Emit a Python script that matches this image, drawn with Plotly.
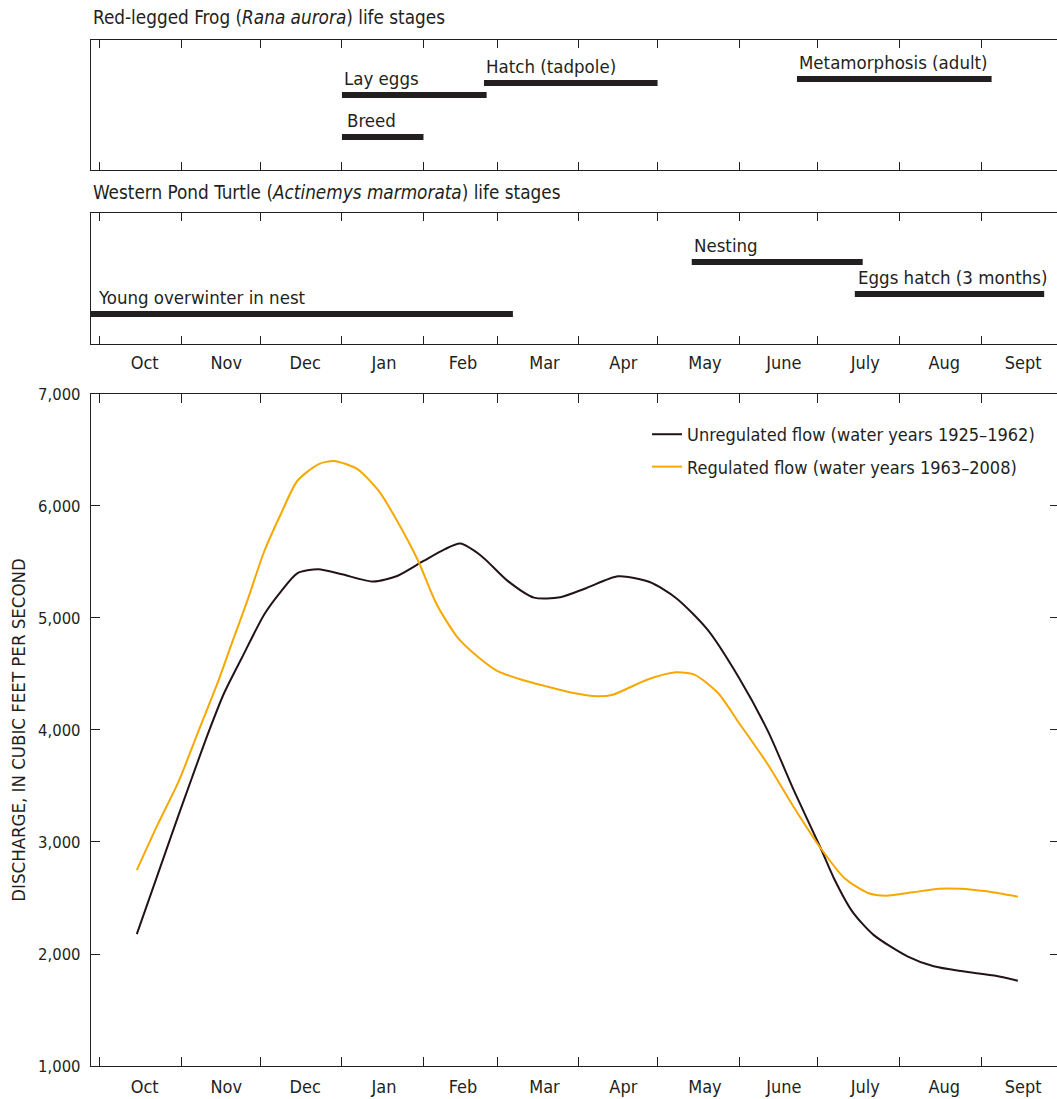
import plotly.graph_objects as go

# ---- axis labelling -------------------------------------------------------
MONTH_LABELS = ["Oct", "Nov", "Dec", "Jan", "Feb", "Mar", "Apr", "May",
                "June", "July", "Aug", "Sept"]
MONTH_STARTS = ["2000-10-01", "2000-11-01", "2000-12-01", "2001-01-01",
                "2001-02-01", "2001-03-01", "2001-04-01", "2001-05-01",
                "2001-06-01", "2001-07-01", "2001-08-01", "2001-09-01"]
MONTH_LABEL_DATES = ["2000-10-18", "2000-11-18", "2000-12-18", "2001-01-17",
                     "2001-02-16", "2001-03-19", "2001-04-18", "2001-05-19",
                     "2001-06-18", "2001-07-19", "2001-08-18", "2001-09-17"]
DISCHARGE_TICKS = [1000, 2000, 3000, 4000, 5000, 6000, 7000]

# ---- mean daily discharge, cubic feet per second -------------------------
unreg_dates = ["2000-10-15", "2000-10-23", "2000-10-31", "2000-11-05", "2000-11-11",
               "2000-11-17", "2000-11-24", "2000-12-02 12:00", "2000-12-09", "2000-12-15",
               "2000-12-23", "2001-01-01", "2001-01-13", "2001-01-22", "2001-02-01",
               "2001-02-09", "2001-02-15", "2001-02-23", "2001-03-05", "2001-03-15",
               "2001-03-25", "2001-04-04", "2001-04-16", "2001-04-28", "2001-05-08",
               "2001-05-20", "2001-06-01", "2001-06-12", "2001-06-22", "2001-07-02",
               "2001-07-07", "2001-07-14", "2001-07-22", "2001-08-04", "2001-08-14",
               "2001-08-25", "2001-09-06", "2001-09-15"]
unreg_flow = [2178, 2713, 3249, 3576, 3963,
              4319, 4647, 5033, 5242, 5399,
              5435, 5390, 5325, 5375, 5509,
              5613, 5664, 5554, 5331, 5182,
              5185, 5268, 5372, 5321, 5179,
              4896, 4464, 3988, 3452, 2946,
              2679, 2381, 2173, 1979, 1890,
              1845, 1807, 1762]

reg_dates = ["2000-10-15", "2000-10-23", "2000-10-31", "2000-11-07", "2000-11-15",
             "2000-11-20", "2000-11-26", "2000-12-02 12:00", "2000-12-09", "2000-12-15",
             "2000-12-23", "2000-12-29", "2001-01-07", "2001-01-15", "2001-01-22",
             "2001-01-30", "2001-02-06", "2001-02-14", "2001-02-22", "2001-03-01",
             "2001-03-11", "2001-03-19", "2001-03-29", "2001-04-08", "2001-04-14",
             "2001-04-27", "2001-05-08", "2001-05-15", "2001-05-24", "2001-06-01",
             "2001-06-12", "2001-06-22", "2001-07-02", "2001-07-11", "2001-07-20",
             "2001-07-27", "2001-08-06", "2001-08-16", "2001-08-24", "2001-09-03",
             "2001-09-15"]
reg_flow = [2749, 3159, 3546, 3963, 4438,
            4766, 5152, 5598, 5940, 6223,
            6372, 6402, 6327, 6134, 5866,
            5509, 5123, 4825, 4647, 4528,
            4444, 4394, 4335, 4301, 4315,
            4449, 4515, 4494, 4330, 4062,
            3690, 3304, 2946, 2679, 2545,
            2521, 2551, 2583, 2583, 2560,
            2512]

# ---- life-stage periods ---------------------------------------------------
frog_stages = ["Lay eggs", "Breed", "Hatch (tadpole)", "Metamorphosis (adult)"]
frog_start = ["2001-01-01", "2001-01-01", "2001-02-24", "2001-06-23"]
frog_end = ["2001-02-25", "2001-02-01", "2001-05-01", "2001-09-05"]

turtle_stages = ["Young overwinter in nest", "Nesting", "Eggs hatch (3 months)"]
turtle_start = ["2000-09-27 14:00", "2001-05-14", "2001-07-15"]
turtle_end = ["2001-03-07", "2001-07-18", "2001-09-25"]

# ---- styling --------------------------------------------------------------
INK = "#231f20"
UNREG_COLOR = "#231316"
REG_COLOR = "#f6a800"
FONT = "DejaVu Sans Condensed, Liberation Sans Narrow, Arial Narrow, sans-serif"
X_RANGE = ["2000-09-27 14:00", "2001-09-29 21:00"]

frog_rows = [0.577, 0.254, 0.669, 0.70]
frog_text_shift = [0, 3, 0, 0]
turtle_rows = [0.229, 0.626, 0.382]
turtle_text_shift = [5, 0, 1]

fig = go.Figure()
annotations = []

for name, s, e, row, dx in zip(frog_stages, frog_start, frog_end, frog_rows, frog_text_shift):
    fig.add_trace(go.Scatter(x=[s, e], y=[row, row], mode="lines", xaxis="x", yaxis="y",
                             line=dict(color=INK, width=6), showlegend=False,
                             hoverinfo="skip"))
    annotations.append(dict(x=s, y=row, xref="x", yref="y", text=name, showarrow=False,
                            xanchor="left", yanchor="bottom", yshift=4, xshift=dx,
                            font=dict(size=18.5, color=INK, family=FONT)))

for name, s, e, row, dx in zip(turtle_stages, turtle_start, turtle_end, turtle_rows, turtle_text_shift):
    fig.add_trace(go.Scatter(x=[s, e], y=[row, row], mode="lines", xaxis="x2", yaxis="y2",
                             line=dict(color=INK, width=6), showlegend=False,
                             hoverinfo="skip"))
    annotations.append(dict(x=s, y=row, xref="x2", yref="y2", text=name, showarrow=False,
                            xanchor="left", yanchor="bottom", yshift=4, xshift=dx,
                            font=dict(size=18.5, color=INK, family=FONT)))

fig.add_trace(go.Scatter(x=unreg_dates, y=unreg_flow, mode="lines", xaxis="x3", yaxis="y3",
                         name="Unregulated flow (water years 1925\u20131962)",
                         legendgroup="unreg",
                         line=dict(color=UNREG_COLOR, width=2, shape="spline", smoothing=0.7)))
fig.add_trace(go.Scatter(x=reg_dates, y=reg_flow, mode="lines", xaxis="x3", yaxis="y3",
                         name="Regulated flow (water years 1963\u20132008)",
                         legendgroup="reg",
                         line=dict(color=REG_COLOR, width=2, shape="spline", smoothing=0.7)))
# carries the right-hand discharge ticks
fig.add_trace(go.Scatter(x=[], y=[], xaxis="x3", yaxis="y4", showlegend=False,
                         hoverinfo="skip"))

annotations.append(dict(x=0, y=1.0224, xref="paper", yref="paper", xanchor="left",
                        yanchor="middle", showarrow=False,
                        text="Red-legged Frog (<i>Rana aurora</i>) life stages",
                        font=dict(size=18.8, color=INK, family=FONT)))
annotations.append(dict(x=0, y=0.8509, xref="paper", yref="paper", xanchor="left",
                        yanchor="middle", showarrow=False,
                        text="Western Pond Turtle (<i>Actinemys marmorata</i>) life stages",
                        font=dict(size=18.8, color=INK, family=FONT)))

frame = dict(showline=True, linecolor=INK, linewidth=1.3, showgrid=False, zeroline=False)
month_minor = dict(tickvals=MONTH_STARTS, ticks="inside", ticklen=8, tickwidth=1.3,
                   tickcolor=INK, showgrid=False)

fig.update_layout(
    width=1057, height=1099,
    margin=dict(l=91, r=0, t=40, b=33),
    paper_bgcolor="white", plot_bgcolor="white",
    font=dict(family=FONT, color=INK, size=18),
    annotations=annotations,
    showlegend=True,
    legend=dict(x=0.5756, y=0.6335, xanchor="left", yanchor="top",
                traceorder="grouped", tracegroupgap=6,
                font=dict(size=18, color=INK, family=FONT),
                bgcolor="rgba(0,0,0,0)"),
    xaxis=dict(**frame, domain=[0, 1], anchor="y", type="date", range=X_RANGE,
               mirror="ticks", ticks="inside", tickvals=MONTH_STARTS, ticklen=8,
               tickwidth=1.3, tickcolor=INK, showticklabels=False),
    yaxis=dict(**frame, domain=[0.8733, 1.0], anchor="x", range=[0, 1],
               showticklabels=False, ticks=""),
    xaxis2=dict(**frame, domain=[0, 1], anchor="y2", type="date", range=X_RANGE,
                mirror="ticks", ticks="", tickvals=MONTH_LABEL_DATES, ticktext=MONTH_LABELS,
                ticklabelstandoff=2,
                tickfont=dict(size=18, color=INK, family=FONT), minor=month_minor),
    yaxis2=dict(**frame, domain=[0.7037, 0.8314], anchor="x2", range=[0, 1],
                showticklabels=False, ticks=""),
    xaxis3=dict(**frame, domain=[0, 1], anchor="y3", type="date", range=X_RANGE,
                mirror="ticks", ticks="", tickvals=MONTH_LABEL_DATES, ticktext=MONTH_LABELS,
                ticklabelstandoff=4,
                tickfont=dict(size=18, color=INK, family=FONT),
                minor=dict(month_minor, ticklen=9)),
    yaxis3=dict(**frame, domain=[0, 0.655], anchor="x3", range=[1000, 7000],
                tickvals=DISCHARGE_TICKS, tickformat=",", ticks="inside", ticklen=9,
                tickwidth=1.3, tickcolor=INK, ticklabelstandoff=6,
                tickfont=dict(size=16.5, color=INK, family=FONT),
                title=dict(text="DISCHARGE, IN CUBIC FEET PER SECOND", standoff=7,
                           font=dict(size=18.5, color=INK, family=FONT))),
    yaxis4=dict(overlaying="y3", side="right", anchor="x3", range=[1000, 7000],
                tickvals=DISCHARGE_TICKS, ticks="inside", ticklen=7, tickwidth=1.3,
                tickcolor=INK, showticklabels=False, showline=False, showgrid=False,
                zeroline=False),
)

fig.write_html("out.html")
